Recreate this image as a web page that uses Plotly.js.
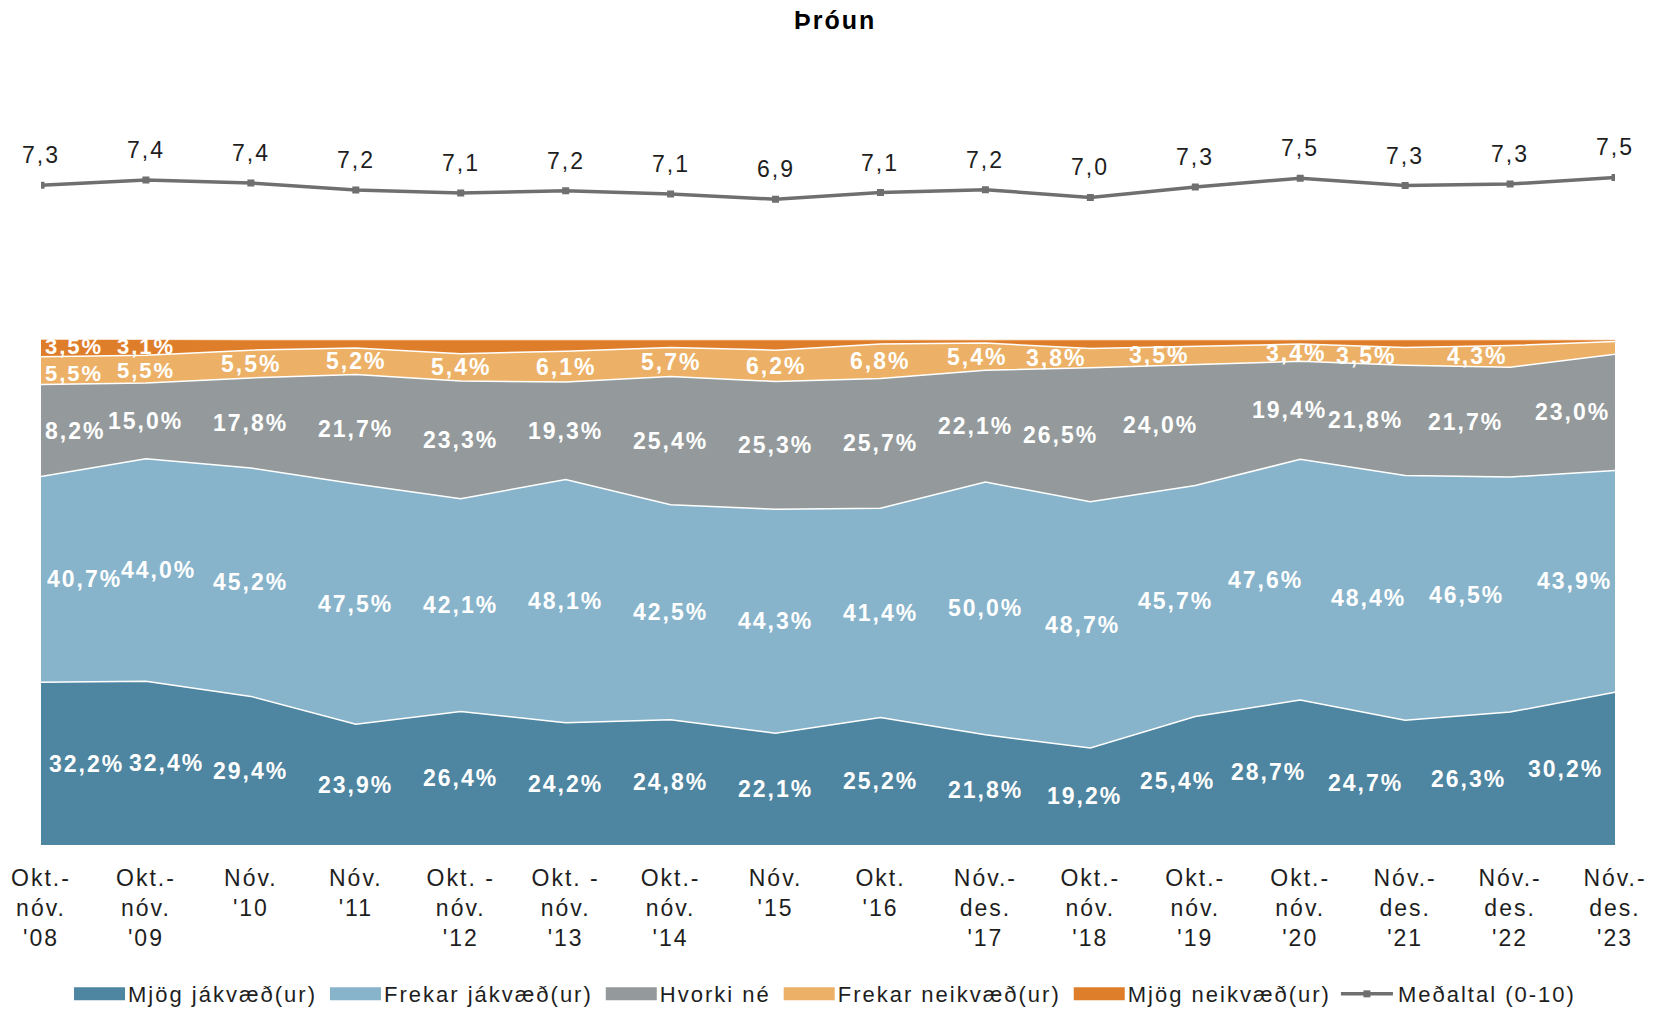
<!DOCTYPE html>
<html>
<head>
<meta charset="utf-8">
<script src="https://cdn.plot.ly/plotly-3.0.1.min.js"></script>
<style>
  html, body { margin: 0; padding: 0; background: #ffffff; }
  #chart { width: 1657px; height: 1010px; }
  svg text { letter-spacing: 2px; }
</style>
</head>
<body>
<div id="chart"></div>
<script>
// ---- Data ----
const categories = [
  "Okt.-<br>nóv.<br>'08", "Okt.-<br>nóv.<br>'09", "Nóv.<br>'10", "Nóv.<br>'11",
  "Okt. -<br>nóv.<br>'12", "Okt. -<br>nóv.<br>'13", "Okt.-<br>nóv.<br>'14", "Nóv.<br>'15",
  "Okt.<br>'16", "Nóv.-<br>des.<br>'17", "Okt.-<br>nóv.<br>'18", "Okt.-<br>nóv.<br>'19",
  "Okt.-<br>nóv.<br>'20", "Nóv.-<br>des.<br>'21", "Nóv.-<br>des.<br>'22", "Nóv.-<br>des.<br>'23"
];
const mjogJakvaed   = [32.2, 32.4, 29.4, 23.9, 26.4, 24.2, 24.8, 22.1, 25.2, 21.8, 19.2, 25.4, 28.7, 24.7, 26.3, 30.2];
const frekarJakvaed = [40.7, 44.0, 45.2, 47.5, 42.1, 48.1, 42.5, 44.3, 41.4, 50.0, 48.7, 45.7, 47.6, 48.4, 46.5, 43.9];
const hvorkiNe      = [18.2, 15.0, 17.8, 21.7, 23.3, 19.3, 25.4, 25.3, 25.7, 22.1, 26.5, 24.0, 19.4, 21.8, 21.7, 23.0];
const frekarNeikv   = [5.5, 5.5, 5.5, 5.2, 5.4, 6.1, 5.7, 6.2, 6.8, 5.4, 3.8, 3.5, 3.4, 3.5, 4.3, 2.5];
const mjogNeikv     = [3.5, 3.1, 2.1, 1.7, 2.8, 2.3, 1.6, 2.1, 0.9, 0.7, 1.8, 1.4, 0.9, 1.6, 1.2, 0.4];
const medaltal      = [7.30, 7.44, 7.36, 7.17, 7.09, 7.15, 7.06, 6.92, 7.10, 7.18, 6.97, 7.25, 7.49, 7.29, 7.33, 7.51];

// which points carry a data label in the reference
const labelCount = { mjogJakvaed: 16, frekarJakvaed: 16, hvorkiNe: 16, frekarNeikv: 15, mjogNeikv: 2 };
// the reference shows the first "Hvorki né" label as "8,2%" (leading digit cut off)
const labelOverride = { hvorkiNe: { 0: "8,2%" } };

// ---- Styling ----
const FONT = "Liberation Sans, Arial, Helvetica, sans-serif";
const TXT = "#1e1e1e";
const series = [
  { key: "mjogJakvaed",   name: "Mjög jákvæð(ur)",    data: mjogJakvaed,   color: "#4e85a1" },
  { key: "frekarJakvaed", name: "Frekar jákvæð(ur)",  data: frekarJakvaed, color: "#87b4cb" },
  { key: "hvorkiNe",      name: "Hvorki né",          data: hvorkiNe,      color: "#949a9b" },
  { key: "frekarNeikv",   name: "Frekar neikvæð(ur)", data: frekarNeikv,   color: "#ecb166" },
  { key: "mjogNeikv",     name: "Mjög neikvæð(ur)",   data: mjogNeikv,     color: "#df7e2a" }
];

// label nudges (pixels) to follow the hand-placed labels of the reference
const labelNudgeX = {
  0:  { mjogJakvaed: 6, frekarJakvaed: 4, hvorkiNe: 2, frekarNeikv: 2, mjogNeikv: 2 },
  1:  { mjogJakvaed: 21, frekarJakvaed: 13 },
  9:  { hvorkiNe: -10, frekarNeikv: -8 },
  10: { mjogJakvaed: -6, frekarJakvaed: -8, hvorkiNe: -30, frekarNeikv: -34 },
  11: { mjogJakvaed: -18, frekarJakvaed: -20, hvorkiNe: -35, frekarNeikv: -36 },
  12: { mjogJakvaed: -32, frekarJakvaed: -35, hvorkiNe: -11, frekarNeikv: -4 },
  13: { mjogJakvaed: -40, frekarJakvaed: -37, hvorkiNe: -40, frekarNeikv: -39 },
  14: { mjogJakvaed: -42, frekarJakvaed: -44, hvorkiNe: -45, frekarNeikv: -33 },
  15: { mjogJakvaed: -10, frekarJakvaed: -1, hvorkiNe: -3 }
};
const labelNudgeY = {
  0: { frekarNeikv: -3, mjogNeikv: 1 },
  1: { frekarNeikv: -1, mjogNeikv: 1 }
};

const xs = categories.map((_, i) => i);
const fmt = v => v.toFixed(1).replace(".", ",");

const traces = series.map(s => ({
  type: "scatter",
  mode: "lines",
  x: xs,
  y: s.data,
  name: s.name,
  stackgroup: "one",
  line: { color: "#ffffff", width: 1.5, shape: "linear" },
  fillcolor: s.color,
  hoverinfo: "skip",
  xaxis: "x",
  yaxis: "y"
}));

traces.push({
  type: "scatter",
  mode: "lines+markers",
  x: xs,
  y: medaltal,
  name: "Meðaltal (0-10)",
  line: { color: "#6f6f6f", width: 3.5 },
  marker: { symbol: "square", size: 7, color: "#6f6f6f" },
  hoverinfo: "skip",
  xaxis: "x",
  yaxis: "y2"
});

// ---- Data labels (positioned through the axes) ----
const annotations = [];
const cum = xs.map(() => 0);
const last = xs.length - 1;
series.forEach(s => {
  s.data.forEach((v, i) => {
    const mid = cum[i] + v / 2;
    cum[i] += v;
    if (i >= labelCount[s.key]) return;
    let text = fmt(v) + "%";
    if (labelOverride[s.key] && labelOverride[s.key][i] !== undefined) text = labelOverride[s.key][i];
    const nx = (labelNudgeX[i] && labelNudgeX[i][s.key]) || 0;
    const ny = (labelNudgeY[i] && labelNudgeY[i][s.key]) || 0;
    const small = s.key === "frekarNeikv" || s.key === "mjogNeikv";
    annotations.push({
      x: i, y: mid, xref: "x", yref: "y",
      text: text, showarrow: false,
      xanchor: i === 0 ? "left" : (i === last ? "right" : "center"),
      xshift: nx, yshift: ny,
      yanchor: "middle",
      font: { family: FONT, size: (i < 2 && small) ? 22 : 23, color: "#ffffff", weight: "bold" }
    });
  });
});
medaltal.forEach((v, i) => {
  annotations.push({
    x: i, y: v, xref: "x", yref: "y2",
    text: fmt(v), showarrow: false,
    xanchor: "center", yanchor: "middle", yshift: 30,
    font: { family: FONT, size: 23, color: TXT }
  });
});

const layout = {
  width: 1657,
  height: 1010,
  paper_bgcolor: "#ffffff",
  plot_bgcolor: "#ffffff",
  margin: { l: 41, r: 42, t: 100, b: 165 },
  showlegend: true,
  title: {
    text: "Þróun",
    font: { family: FONT, size: 25, color: "#000000", weight: "bold" },
    x: 0.504, xref: "container", xanchor: "center",
    y: 0.980, yref: "container", yanchor: "middle"
  },
  xaxis: {
    range: [0, 15],
    tickmode: "array",
    tickvals: xs,
    ticktext: categories,
    showgrid: false,
    zeroline: false,
    showline: false,
    ticks: "",
    ticklabelstandoff: 17,
    tickfont: { family: FONT, size: 23, color: TXT },
    fixedrange: true
  },
  yaxis: {
    domain: [0, 0.6785],
    range: [0, 100],
    showgrid: false, zeroline: false, showline: false,
    showticklabels: false, ticks: "",
    fixedrange: true
  },
  yaxis2: {
    domain: [0.70, 1],
    range: [3.562, 9.603],
    anchor: "x",
    showgrid: false, zeroline: false, showline: false,
    showticklabels: false, ticks: "",
    fixedrange: true
  },
  legend: {
    orientation: "h",
    x: 0.497, xref: "container", xanchor: "center",
    y: 0.0158, yref: "container", yanchor: "middle",
    font: { family: FONT, size: 22, color: TXT },
    itemwidth: 52,
    traceorder: "normal",
    bgcolor: "rgba(0,0,0,0)"
  },
  annotations: annotations
};

// Legend keys of the area series are drawn as filled boxes like the reference
function styleLegendBoxes() {
  document.querySelectorAll("#chart .legend .traces").forEach(g => {
    const fill = g.querySelector(".legendfill path");
    if (!fill) return;
    fill.setAttribute("d", "M8,-6.5h51v13h-51z");
    g.querySelectorAll(".legendlines path").forEach(p => p.setAttribute("d", ""));
  });
}

Plotly.newPlot("chart", traces, layout, { displayModeBar: false, staticPlot: true })
  .then(styleLegendBoxes);
</script>
</body>
</html>
